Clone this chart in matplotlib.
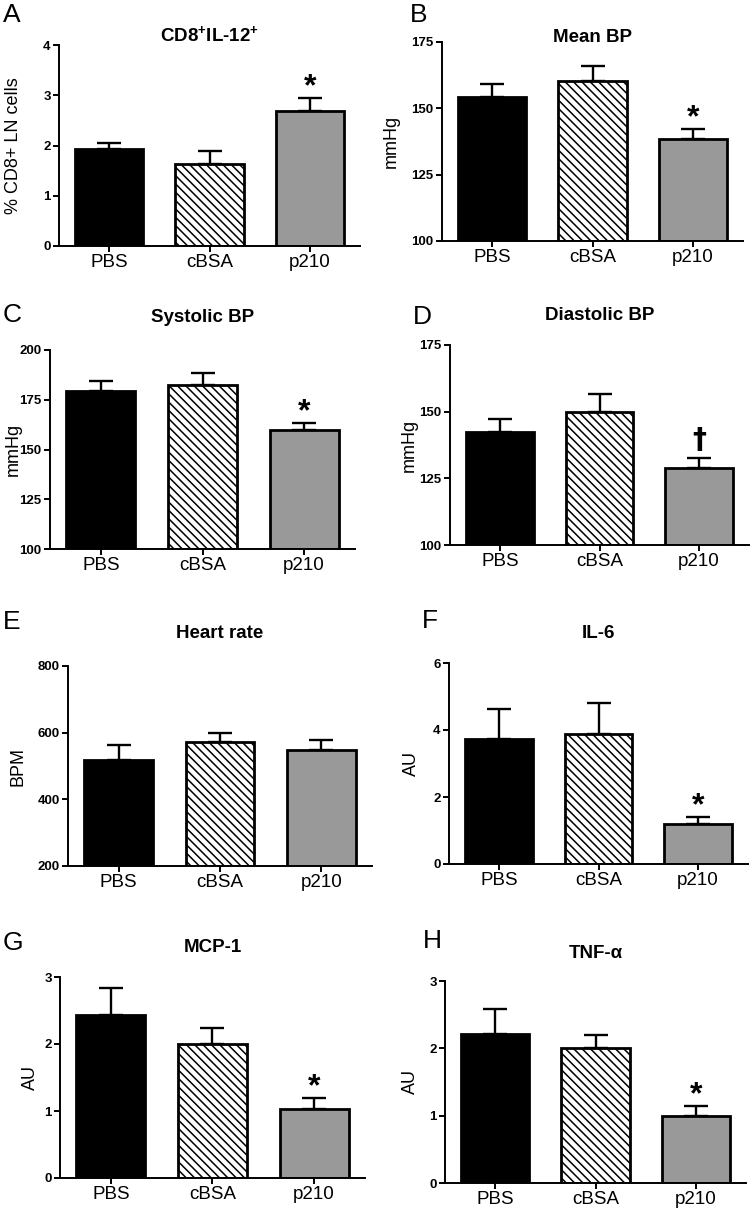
import matplotlib
matplotlib.use('Agg')
import matplotlib.pyplot as plt
import numpy as np

plt.rcParams['font.family'] = ['Liberation Sans', 'DejaVu Sans']
plt.rcParams['mathtext.fontset'] = 'custom'
plt.rcParams['mathtext.bf'] = 'Liberation Sans:bold'
plt.rcParams['mathtext.rm'] = 'Liberation Sans:bold'
plt.rcParams['mathtext.default'] = 'bf'
plt.rcParams['hatch.linewidth'] = 1.1

groups = ['PBS', 'cBSA', 'p210']

# panel data: means and SEM
cd8_mean = [1.93, 1.64, 2.68]
cd8_sem = [0.11, 0.25, 0.26]
mbp_mean = [154.3, 160.2, 138.5]
mbp_sem = [4.8, 5.8, 3.8]
sbp_mean = [179.4, 182.4, 159.9]
sbp_sem = [5.2, 6.2, 3.6]
dbp_mean = [142.4, 150.0, 128.8]
dbp_sem = [4.7, 6.5, 3.8]
hr_mean = [518, 571, 548]
hr_sem = [45, 28, 30]
il6_mean = [3.72, 3.88, 1.19]
il6_sem = [0.90, 0.93, 0.21]
mcp_mean = [2.44, 2.00, 1.03]
mcp_sem = [0.39, 0.24, 0.17]
tnf_mean = [2.21, 2.00, 1.00]
tnf_sem = [0.38, 0.20, 0.14]

panels = [
    # letter, title, ylabel, means, sems, ylim, yticks, mark,
    # box(left,right,top,bottom px), title y px, ylabel x px
    ('A', r'CD8$^{+}$IL-12$^{+}$', '% CD8+ LN cells', cd8_mean, cd8_sem, (0, 4), [0, 1, 2, 3, 4], '*', (59, 360, 45, 246), 35, 14),
    ('B', 'Mean BP', 'mmHg', mbp_mean, mbp_sem, (100, 175), [100, 125, 150, 175], '*', (442, 743, 42, 241), 37, 391),
    ('C', 'Systolic BP', 'mmHg', sbp_mean, sbp_sem, (100, 200), [100, 125, 150, 175, 200], '*', (50, 355, 350, 549), 318, 13),
    ('D', 'Diastolic BP', 'mmHg', dbp_mean, dbp_sem, (100, 175), [100, 125, 150, 175], '†', (450, 749, 345, 545), 315, 409),
    ('E', 'Heart rate', 'BPM', hr_mean, hr_sem, (200, 800), [200, 400, 600, 800], None, (68, 372, 666, 866), 633, 18),
    ('F', 'IL-6', 'AU', il6_mean, il6_sem, (0, 6), [0, 2, 4, 6], '*', (449, 748, 663, 864), 633, 411),
    ('G', 'MCP-1', 'AU', mcp_mean, mcp_sem, (0, 3), [0, 1, 2, 3], '*', (60, 365, 977, 1178), 947, 30),
    ('H', 'TNF-α', 'AU', tnf_mean, tnf_sem, (0, 3), [0, 1, 2, 3], '*', (445, 746, 981, 1183), 953, 410),
]
letter_pos = {'A': (3, 3), 'B': (410, 3), 'C': (3, 303), 'D': (413, 305),
              'E': (3, 610), 'F': (422, 609), 'G': (3, 931), 'H': (423, 929)}

W, H = 753, 1213
fig = plt.figure(figsize=(W / 100, H / 100), dpi=100)

colors = ['black', 'white', '#999999']
hatches = [None, '\\\\\\\\', None]
x = np.arange(3)

for letter, title, ylab, means, sems, ylim, yticks, mark, box, ty, yx in panels:
    l, r, t, b = box
    ax = fig.add_axes([l / W, 1 - b / H, (r - l) / W, (b - t) / H])
    means = np.array(means, dtype=float)
    sems = np.array(sems, dtype=float)
    ax.errorbar(x, means, yerr=[np.zeros(3), sems], fmt='none', ecolor='black',
                elinewidth=1.7, capsize=8.5, capthick=1.7, zorder=1)
    for i in range(3):
        ax.bar(x[i], means[i] - ylim[0], bottom=ylim[0], width=0.68, color=colors[i],
               edgecolor='black', linewidth=2.0, hatch=hatches[i], zorder=2)
    ax.set_xlim(-0.5, 2.5)
    ax.set_ylim(*ylim)
    ax.set_yticks(yticks)
    ax.set_xticks(x)
    ax.set_xticklabels(groups, fontsize=13.5)
    for lab in ax.get_yticklabels():
        lab.set_fontweight('bold')
        lab.set_fontsize(9.5)
    ax.spines['top'].set_visible(False)
    ax.spines['right'].set_visible(False)
    ax.spines['left'].set_linewidth(1.4)
    ax.spines['bottom'].set_linewidth(1.4)
    ax.tick_params(axis='both', direction='out', length=4, width=1.4, pad=2)
    ax.set_ylabel(ylab, fontsize=13, va='center')
    ax.yaxis.set_label_coords((yx - l) / (r - l), 0.5)
    fig.text((l + r) / 2 / W, 1 - ty / H, title, fontsize=13.5, fontweight='bold',
             ha='center', va='center')
    ax.patch.set_alpha(0)
    if mark:
        top = means[2] + sems[2]
        if mark == '*':
            ax.annotate(mark, (x[2], top), xytext=(0, -3), textcoords='offset points',
                        ha='center', va='bottom', fontsize=23, fontweight='bold')
        else:
            ax.annotate(mark, (x[2], top), xytext=(0, 3), textcoords='offset points',
                        ha='center', va='bottom', fontsize=20, fontweight='bold',
                        family=['DejaVu Sans'])
    lx, ly = letter_pos[letter]
    fig.text(lx / W, 1 - ly / H, letter, fontsize=19, ha='left', va='top')

fig.savefig('out.png', dpi=100)
